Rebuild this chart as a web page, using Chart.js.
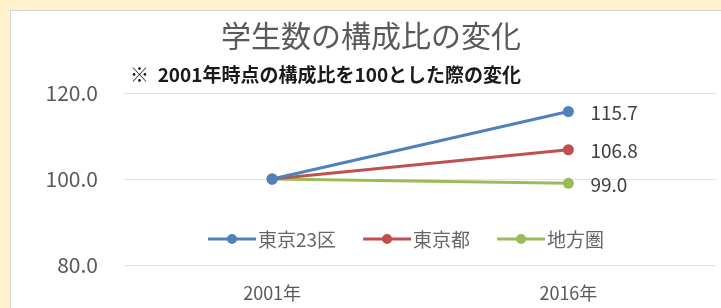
<!DOCTYPE html>
<html>
<head>
<meta charset="utf-8">
<script src="https://cdn.jsdelivr.net/npm/chart.js@4"></script>
<style>
  html, body { margin: 0; padding: 0; background: #fff2cc; overflow: hidden; }
  #panel {
    position: absolute; left: 10px; top: 10px; width: 720px; height: 310px;
    background: #fff; border-top: 1px solid #d6d6d6; border-left: 1px solid #d6d6d6;
  }
  #wrap { position: absolute; left: 0; top: 0; width: 711px; height: 298px; }
</style>
</head>
<body>
<div id="panel"><div id="wrap"><canvas id="chart"></canvas></div></div>
<script>
const titleText = "学生数の構成比の変化";
const subtitleText = "※  2001年時点の構成比を100とした際の変化";
const years = ["2001年", "2016年"];
const seriesNames = ["東京23区", "東京都", "地方圏"];
const tokyo23 = [100, 115.7];
const tokyoTo = [100, 106.8];
const chiho = [100, 99.0];
const yTicks = [80, 120, 20]; // min, max, step
const colors = ["#4f81bd", "#c0504d", "#9bbb59"];

const font = "'Noto Sans CJK JP', 'Noto Sans', sans-serif";

// titles, legend inside plot, end labels
const decorations = {
  id: "decorations",
  afterDraw(chart) {
    const ctx = chart.ctx;
    ctx.save();
    ctx.textBaseline = "middle";

    ctx.fillStyle = "#595959";
    ctx.font = "30px " + font;
    ctx.textAlign = "center";
    ctx.fillText(titleText, 360, 25);

    ctx.fillStyle = "#1a1a1a";
    ctx.font = "bold 19px " + font;
    ctx.textAlign = "left";
    ctx.fillText(subtitleText, 119, 64);

    // value labels at last point
    ctx.font = "19px " + font;
    ctx.fillStyle = "#404040";
    chart.data.datasets.forEach((ds, i) => {
      const meta = chart.getDatasetMeta(i);
      const pt = meta.data[meta.data.length - 1];
      const v = ds.data[ds.data.length - 1];
      ctx.fillText(v.toFixed(1), pt.x + 22, pt.y + 1);
    });

    // legend
    const ly = 228;
    let x = 197;
    ctx.font = "19px " + font;
    chart.data.datasets.forEach((ds) => {
      ctx.strokeStyle = ds.borderColor;
      ctx.lineWidth = 3;
      ctx.beginPath();
      ctx.moveTo(x, ly);
      ctx.lineTo(x + 48, ly);
      ctx.stroke();
      ctx.fillStyle = ds.borderColor;
      ctx.beginPath();
      ctx.arc(x + 24, ly, 5, 0, Math.PI * 2);
      ctx.fill();
      ctx.fillStyle = "#666666";
      ctx.fillText(ds.label, x + 50, ly + 1);
      x += 50 + ctx.measureText(ds.label).width + 27;
    });
    ctx.restore();
  }
};

const data = [tokyo23, tokyoTo, chiho];

new Chart(document.getElementById("chart"), {
  type: "line",
  data: {
    labels: years,
    datasets: seriesNames.map((name, i) => ({
      label: name,
      data: data[i],
      borderColor: colors[i],
      backgroundColor: colors[i],
      borderWidth: 3,
      pointRadius: 5.5,
      pointBorderWidth: 0,
      tension: 0
    }))
  },
  options: {
    responsive: true,
    maintainAspectRatio: false,
    animation: false,
    layout: { padding: { top: 82, left: 0, right: 0, bottom: 0 } },
    plugins: {
      legend: { display: false },
      tooltip: { enabled: false }
    },
    scales: {
      x: {
        offset: true,
        grid: { display: false, drawTicks: false },
        border: { display: false },
        ticks: { color: "#595959", font: { family: font, size: 18 }, padding: 17 },
        afterFit: (s) => { s.height = 44; }
      },
      y: {
        min: yTicks[0],
        max: yTicks[1],
        grid: { color: "#e3e3e3", lineWidth: 1, drawTicks: false },
        border: { display: false },
        ticks: {
          stepSize: yTicks[2],
          color: "#595959",
          font: { family: font, size: 21 },
          padding: 26,
          callback: (v) => v.toFixed(1)
        },
        afterFit: (s) => { s.width = 113; }
      }
    }
  },
  plugins: [decorations]
});
</script>
</body>
</html>
